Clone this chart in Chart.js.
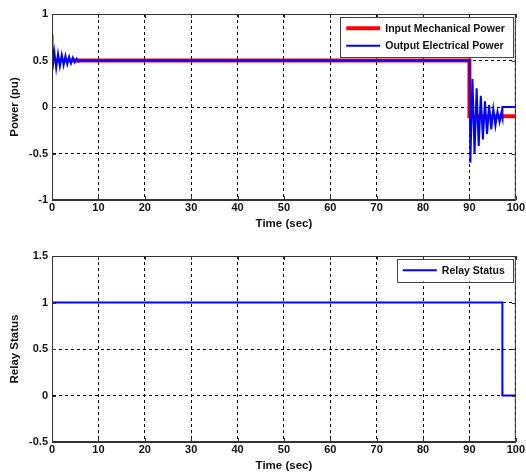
<!DOCTYPE html>
<html>
<head>
<meta charset="utf-8">
<script src="https://cdn.jsdelivr.net/npm/chart.js@4.4.1/dist/chart.umd.min.js"></script>
<style>
  html, body { margin: 0; padding: 0; background: #fff; }
  #wrap { position: relative; width: 526px; height: 474px; }
  canvas { position: absolute; left: 0; }
  #powerChart { top: 0; }
  #relayChart { top: 230px; }
</style>
</head>
<body>
<div id="wrap">
  <canvas id="powerChart" width="526" height="230"></canvas>
  <canvas id="relayChart" width="526" height="242"></canvas>
</div>
<script>
// ---------- data ----------
const timeTicks = [0, 10, 20, 30, 40, 50, 60, 70, 80, 90, 100];
const powerTicks = [-1, -0.5, 0, 0.5, 1];
const relayTicks = [-0.5, 0, 0.5, 1, 1.5];

const mechTime = [0, 90, 90, 100];
const mechPower = [0.5, 0.5, -0.1, -0.1];

const elecTime = [
  0, 0.1, 0.5, 0.9, 1.3, 1.7, 2.1, 2.5, 2.9, 3.3, 3.7, 4.1, 4.5, 4.9, 5.3, 5.7, 6.2,
  90, 90.2, 90.65, 91.1, 91.55, 92.0, 92.45, 92.9, 93.35, 93.8, 94.25, 94.7,
  95.15, 95.6, 96.05, 96.5, 96.85, 97.1, 97.1, 100
];
const elecPower = [
  0.78, 0.40, 0.59, 0.42, 0.57, 0.44, 0.56, 0.45, 0.55, 0.46, 0.54, 0.47, 0.53, 0.48, 0.52, 0.49, 0.5,
  0.5, -0.60, 0.30, -0.50, 0.20, -0.42, 0.12, -0.35, 0.06, -0.29, 0.02, -0.24,
  -0.02, -0.20, -0.05, -0.16, -0.07, -0.12, 0, 0
];

const relayTime = [0, 97.1, 97.1, 100];
const relayStatus = [1, 1, 0, 0];

const FONT = '"Liberation Sans", Arial, sans-serif';
const toPoints = (xs, ys) => xs.map((x, i) => ({ x: x, y: ys[i] }));

// box around the axes, inward tick marks and a boxed legend (MATLAB look)
const matlabFrame = {
  id: "matlabFrame",
  afterDraw(chart) {
    const { ctx, chartArea: a, scales } = chart;
    ctx.save();
    ctx.strokeStyle = "#333";
    ctx.lineWidth = 1;
    ctx.strokeRect(a.left + 0.5, a.top + 0.5, a.right - a.left - 1, a.bottom - a.top - 1);

    ctx.beginPath();
    scales.x.ticks.forEach((t, i) => {
      const px = Math.round(scales.x.getPixelForTick(i)) + 0.5;
      ctx.moveTo(px, a.top); ctx.lineTo(px, a.top + 4);
      ctx.moveTo(px, a.bottom); ctx.lineTo(px, a.bottom - 4);
    });
    scales.y.ticks.forEach((t, i) => {
      const py = Math.round(scales.y.getPixelForTick(i)) + 0.5;
      ctx.moveTo(a.left, py); ctx.lineTo(a.left + 4, py);
      ctx.moveTo(a.right, py); ctx.lineTo(a.right - 4, py);
    });
    ctx.stroke();

    // legend
    const rowH = 17.5;
    ctx.font = "bold 10.5px " + FONT;
    const items = chart.data.datasets;
    const textW = Math.max(...items.map(d => ctx.measureText(d.label).width));
    const boxW = 6 + 34 + 5 + textW + 8;
    const boxH = items.length * rowH + 5;
    const right = a.right - 3;
    const top = a.top + 3;
    const left = right - boxW;
    ctx.fillStyle = "#fff";
    ctx.fillRect(left, top, boxW, boxH);
    ctx.strokeStyle = "#444";
    ctx.strokeRect(Math.round(left) + 0.5, Math.round(top) + 0.5, Math.round(boxW), Math.round(boxH));
    items.forEach((d, i) => {
      const cy = top + 2.5 + rowH * (i + 0.5);
      ctx.strokeStyle = d.borderColor;
      ctx.lineWidth = d.borderWidth;
      ctx.beginPath();
      ctx.moveTo(left + 6, cy);
      ctx.lineTo(left + 40, cy);
      ctx.stroke();
      ctx.fillStyle = "#111";
      ctx.textBaseline = "middle";
      ctx.fillText(d.label, left + 45, cy + 0.5);
    });
    ctx.restore();
  },
};

function makeScales(yMin, yMax, yTicks, yTitle) {
  const gridCommon = { color: "#000", lineWidth: 1, drawTicks: false };
  const borderCommon = { display: true, color: "#333", width: 1, dash: [3, 3] };
  const tickFont = { family: FONT, size: 11, weight: "bold" };
  const titleFont = { family: FONT, size: 11.5, weight: "bold", lineHeight: 1 };
  return {
    x: {
      type: "linear",
      min: 0,
      max: 100,
      afterBuildTicks: s => { s.ticks = timeTicks.map(v => ({ value: v })); },
      afterFit: s => { s.height = 30; },
      grid: gridCommon,
      border: borderCommon,
      ticks: { font: tickFont, color: "#111", padding: 1, maxRotation: 0, autoSkip: false, callback: v => String(v) },
      title: { display: true, text: "Time (sec)", font: titleFont, color: "#111", padding: { top: 0, bottom: 0 } },
    },
    y: {
      type: "linear",
      min: yMin,
      max: yMax,
      afterBuildTicks: s => { s.ticks = yTicks.map(v => ({ value: v })); },
      afterFit: s => { s.width = 52; },
      grid: gridCommon,
      border: borderCommon,
      ticks: { font: tickFont, color: "#111", padding: 4, autoSkip: false, callback: v => String(v) },
      title: { display: true, text: yTitle, font: titleFont, color: "#111", padding: { top: 9, bottom: 0 } },
    },
  };
}

const commonOptions = {
  responsive: false,
  animation: false,
  plugins: { legend: { display: false }, tooltip: { enabled: false } },
  elements: { point: { radius: 0 }, line: { tension: 0, fill: false } },
};

// ---------- Power chart ----------
new Chart(document.getElementById("powerChart"), {
  type: "line",
  data: {
    datasets: [
      { label: "Input Mechanical Power", data: toPoints(mechTime, mechPower), borderColor: "#ff0000", borderWidth: 4, order: 2 },
      { label: "Output Electrical Power", data: toPoints(elecTime, elecPower), borderColor: "#0000ff", borderWidth: 2, order: 1 },
    ],
  },
  options: Object.assign({}, commonOptions, {
    layout: { padding: { top: 14, right: 9, left: 0, bottom: 0 } },
    scales: makeScales(-1, 1, powerTicks, "Power (pu)"),
  }),
  plugins: [matlabFrame],
});

// ---------- Relay chart ----------
new Chart(document.getElementById("relayChart"), {
  type: "line",
  data: {
    datasets: [
      { label: "Relay Status", data: toPoints(relayTime, relayStatus), borderColor: "#0000ff", borderWidth: 2 },
    ],
  },
  options: Object.assign({}, commonOptions, {
    layout: { padding: { top: 26, right: 9, left: 0, bottom: 0 } },
    scales: makeScales(-0.5, 1.5, relayTicks, "Relay Status"),
  }),
  plugins: [matlabFrame],
});
</script>
</body>
</html>
